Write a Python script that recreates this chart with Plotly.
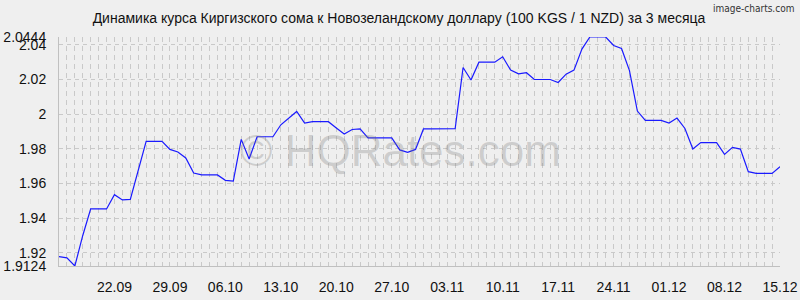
import pandas as pd
import plotly.graph_objects as go

# ---- data ----
start_date = "2014-09-15"
values = [
    1.9178, 1.9171, 1.9124, 1.9300, 1.9453, 1.9453, 1.9453, 1.9535, 1.9505, 1.9508,
    1.9674, 1.9842, 1.9842, 1.9842, 1.9796, 1.9781, 1.9747, 1.9660, 1.9649, 1.9649,
    1.9649, 1.9618, 1.9614, 1.9854, 1.9741, 1.9869, 1.9869, 1.9869, 1.9938, 1.9977,
    2.0015, 1.9948, 1.9956, 1.9956, 1.9956, 1.9920, 1.9885, 1.9911, 1.9914, 1.9862,
    1.9862, 1.9862, 1.9862, 1.9793, 1.9779, 1.9796, 1.9914, 1.9914, 1.9914, 1.9914,
    1.9915, 2.0268, 2.0196, 2.0299, 2.0299, 2.0299, 2.0330, 2.0253, 2.0232, 2.0238,
    2.0199, 2.0199, 2.0199, 2.0182, 2.0230, 2.0253, 2.0374, 2.0444, 2.0444, 2.0444,
    2.0395, 2.0378, 2.0250, 2.0017, 1.9963, 1.9963, 1.9963, 1.9948, 1.9977, 1.9917,
    1.9798, 1.9835, 1.9835, 1.9835, 1.9767, 1.9808, 1.9798, 1.9668, 1.9658, 1.9658,
    1.9658, 1.9697,
]
dates = pd.date_range(start_date, periods=len(values), freq="D")

x_tick_dates = ["2014-09-22", "2014-09-29", "2014-10-06", "2014-10-13", "2014-10-20",
                "2014-10-27", "2014-11-03", "2014-11-10", "2014-11-17", "2014-11-24",
                "2014-12-01", "2014-12-08", "2014-12-15"]
x_tick_labels = ["22.09", "29.09", "06.10", "13.10", "20.10", "27.10", "03.11",
                 "10.11", "17.11", "24.11", "01.12", "08.12", "15.12"]
y_tick_vals = [1.9124, 1.92, 1.94, 1.96, 1.98, 2.00, 2.02, 2.04, 2.0444]
y_tick_labels = ["1.9124", "1.92", "1.94", "1.96", "1.98", "2", "2.02", "2.04", "2.0444"]
y_min, y_max = 1.9124, 2.0444
x_min, x_max = "2014-09-15", "2014-12-15"

title_text = "Динамика курса Киргизского сома к Новозеландскому доллару (100 KGS / 1 NZD) за 3 месяца"

BG = "#efefef"
GRID = "#c9c9c9"
FONT = "Liberation Sans, Arial, sans-serif"

fig = go.Figure()
fig.add_trace(go.Scatter(x=dates, y=values, mode="lines",
                         line=dict(color="#1a1aff", width=1.2),
                         hoverinfo="skip", showlegend=False))

fig.update_layout(
    width=800, height=300,
    margin=dict(l=59, r=20, t=37, b=34, autoexpand=False),
    paper_bgcolor=BG, plot_bgcolor=BG,
    font=dict(family=FONT, size=14, color="#111111"),
    title=dict(text=title_text, x=399 / 800, xanchor="center", xref="container",
               y=1 - 18 / 300, yref="container", yanchor="middle",
               font=dict(family=FONT, size=14, color="#111111")),
    showlegend=False,
)

fig.update_xaxes(
    type="date", range=[x_min, x_max], automargin=False,
    tickmode="array", tickvals=x_tick_dates, ticktext=x_tick_labels,
    showgrid=True, gridcolor=GRID, griddash="5px,4px", gridwidth=1,
    minor=dict(tickmode="linear", tick0=x_min, dtick=86400000,
               showgrid=True, gridcolor=GRID, griddash="5px,4px", gridwidth=1),
    showline=True, linecolor="#c0c0c0", linewidth=1,
    ticks="", ticklabelstandoff=8, zeroline=False,
    tickfont=dict(family=FONT, size=14, color="#111111"),
)
fig.update_yaxes(
    range=[y_min, y_max], automargin=False,
    tickmode="array", tickvals=y_tick_vals, ticktext=y_tick_labels,
    showgrid=True, gridcolor=GRID, griddash="4px,4px", gridwidth=1,
    showline=True, linecolor="#c0c0c0", linewidth=1,
    ticks="", ticklabelstandoff=9, zeroline=False,
    tickfont=dict(family=FONT, size=14, color="#111111"),
)

# watermark
fig.add_annotation(text="© HQRates.com", x=(400 - 59) / 721, y=(300 - 34 - 150) / 229,
                   xref="paper", yref="paper",
                   showarrow=False, xanchor="center", yanchor="middle",
                   font=dict(family=FONT, size=44, color="rgba(120,120,120,0.28)"))
# credit (top-right corner of the image)
fig.add_annotation(text="image-charts.com",
                   x=(796 - 59) / (800 - 59 - 20), y=(300 - 9 - 34) / (300 - 37 - 34),
                   xref="paper", yref="paper", xanchor="right", yanchor="middle",
                   showarrow=False,
                   font=dict(family="DejaVu Sans Condensed, Liberation Sans Narrow, sans-serif",
                             size=10, color="#333333"))

fig.write_html("out.html")
